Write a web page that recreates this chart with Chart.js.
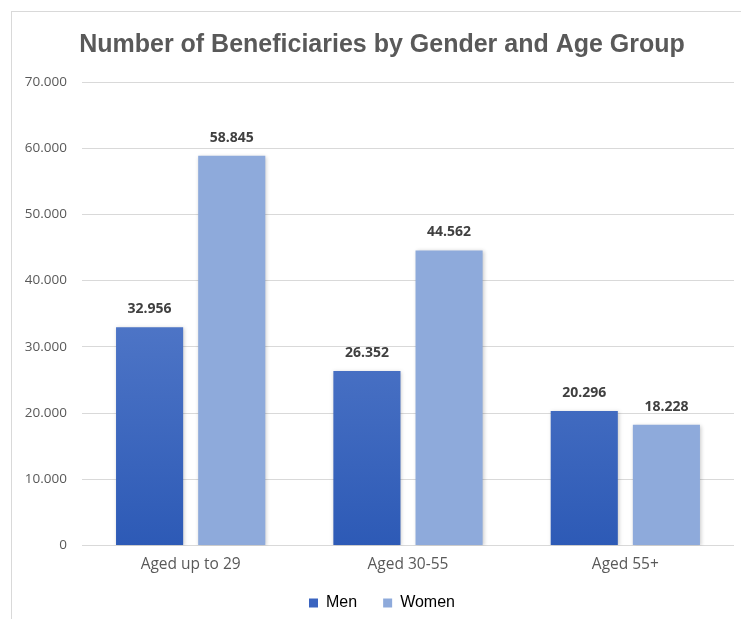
<!DOCTYPE html>
<html>
<head>
<meta charset="utf-8">
<script src="https://cdn.jsdelivr.net/npm/chart.js@4.4.0/dist/chart.umd.min.js"></script>
<style>
  html, body { margin: 0; padding: 0; background: #fff; overflow: hidden; }
  #frame {
    position: absolute;
    left: 11px;
    top: 11px;
    width: 729px;
    height: 607px;
    border-left: 1px solid #d9d9d9;
    border-top: 1px solid #d9d9d9;
  }
  #chart { display: block; }
</style>
</head>
<body>
<div id="frame">
  <canvas id="chart" width="729" height="607"></canvas>
</div>
<script>
const categories = ['Aged up to 29', 'Aged 30-55', 'Aged 55+'];
const men = [32956, 26352, 20296];
const women = [58845, 44562, 18228];
const yTicks = [0, 10000, 20000, 30000, 40000, 50000, 60000, 70000];

// 32956 -> "32.956"
const fmt = (v) => String(v).replace(/\B(?=(\d{3})+(?!\d))/g, '.');

const menFill = (context) => {
  const area = context.chart.chartArea;
  if (!area) return '#4472c4';
  const g = context.chart.ctx.createLinearGradient(0, area.top + 150, 0, area.bottom);
  g.addColorStop(0, '#5b80cd');
  g.addColorStop(1, '#2d5ab6');
  return g;
};

// light drop shadow under the bars
const barShadow = {
  id: 'barShadow',
  beforeDatasetsDraw(chart) {
    const ctx = chart.ctx;
    ctx.save();
    ctx.shadowColor = 'rgba(0, 0, 0, 0.22)';
    ctx.shadowBlur = 4;
    ctx.shadowOffsetX = 1;
    ctx.shadowOffsetY = 1;
  },
  afterDatasetsDraw(chart) {
    chart.ctx.restore();
  }
};

// value labels above each bar
const valueLabels = {
  id: 'valueLabels',
  afterDatasetsDraw(chart) {
    const ctx = chart.ctx;
    ctx.save();
    ctx.font = 'bold 14px "Open Sans", sans-serif';
    ctx.fillStyle = '#404040';
    ctx.textAlign = 'center';
    ctx.textBaseline = 'bottom';
    chart.data.datasets.forEach((ds, i) => {
      chart.getDatasetMeta(i).data.forEach((bar, j) => {
        ctx.fillText(fmt(ds.data[j]), bar.x, bar.y - 11);
      });
    });
    ctx.restore();
  }
};

// keep the wide gap between legend items but make the legend box shorter
const legendHeight = {
  id: 'legendHeight',
  beforeInit(chart) {
    const fit = chart.legend.fit;
    chart.legend.fit = function () {
      fit.call(this);
      this.height -= 9;
    };
  },
  afterLayout(chart) {
    chart.legend.top -= 7;
    chart.legend.bottom -= 7;
    // the left padding only serves to centre title/legend; let the y labels use it
    chart.scales.y.left = 0;
  }
};

new Chart(document.getElementById('chart'), {
  type: 'bar',
  data: {
    labels: categories,
    datasets: [
      {
        label: 'Men',
        data: men,
        backgroundColor: menFill,
        categoryPercentage: 0.756,
        barPercentage: 0.817
      },
      {
        label: 'Women',
        data: women,
        backgroundColor: '#8eaadb',
        categoryPercentage: 0.756,
        barPercentage: 0.817
      }
    ]
  },
  options: {
    responsive: false,
    animation: false,
    // left padding moves title and legend centre to the right, like the original
    layout: { padding: { left: 18, right: 7, top: 0, bottom: 0 } },
    plugins: {
      title: {
        display: true,
        text: 'Number of Beneficiaries by Gender and Age Group',
        color: '#595959',
        font: { family: '"Liberation Sans", Arial, sans-serif', size: 25, weight: 'bold' },
        padding: { top: 18, bottom: 22 }
      },
      legend: {
        position: 'bottom',
        labels: {
          color: '#404040',
          font: { family: '"Liberation Sans", Arial, sans-serif', size: 16 },
          boxWidth: 9,
          boxHeight: 9,
          padding: 26,
          generateLabels: (chart) => chart.data.datasets.map((ds, i) => ({
            text: ds.label,
            fillStyle: i === 0 ? '#3a64c0' : '#8eaadb',
            strokeStyle: 'transparent',
            lineWidth: 0,
            datasetIndex: i
          }))
        }
      },
      tooltip: { enabled: false }
    },
    scales: {
      x: {
        grid: { display: false },
        border: { display: false },
        ticks: {
          color: '#595959',
          font: { family: '"Open Sans", sans-serif', size: 15.5 },
          padding: 2
        }
      },
      y: {
        min: 0,
        max: 70000,
        afterFit: (scale) => { scale.width = 52; },
        afterBuildTicks: (scale) => { scale.ticks = yTicks.map((v) => ({ value: v })); },
        grid: { color: '#d9d9d9', drawTicks: false },
        border: { display: false },
        ticks: {
          color: '#595959',
          font: { family: '"Open Sans", sans-serif', size: 13.5 },
          padding: 15,
          callback: (v) => fmt(v)
        }
      }
    }
  },
  plugins: [barShadow, valueLabels, legendHeight]
});
</script>
</body>
</html>
